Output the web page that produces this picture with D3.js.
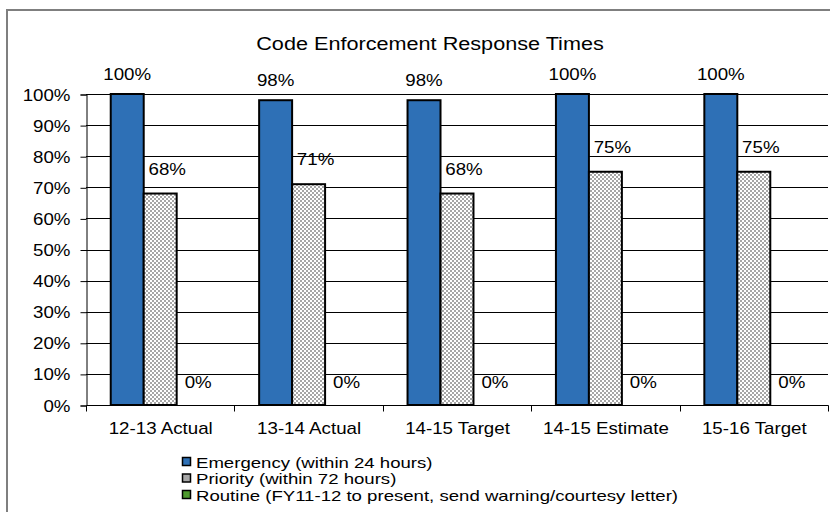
<!DOCTYPE html>
<html>
<head>
<meta charset="utf-8">
<script src="https://cdn.jsdelivr.net/npm/d3@7/dist/d3.min.js"></script>
<style>
  html, body { margin: 0; padding: 0; background: #fff; }
  svg { display: block; font-family: "Liberation Sans", Arial, sans-serif; }
</style>
</head>
<body>
<svg id="chart" width="830" height="512"></svg>
<script>
// Response-time data by fiscal year
const categories = ["12-13 Actual", "13-14 Actual", "14-15 Target", "14-15 Estimate", "15-16 Target"];
const emergency = [100, 98, 98, 100, 100];
const priority = [68, 71, 68, 75, 75];
const routine = [0, 0, 0, 0, 0];
const seriesNames = [
  "Emergency (within 24 hours)",
  "Priority (within 72 hours)",
  "Routine (FY11-12 to present, send warning/courtesy letter)"
];
const yTicks = [0, 10, 20, 30, 40, 50, 60, 70, 80, 90, 100];
const chartTitle = "Code Enforcement Response Times";

const series = [
  { key: "emergency", name: seriesNames[0], values: emergency, fill: "#2e70b6", dx: 0, dy: -14 },
  { key: "priority", name: seriesNames[1], values: priority, fill: "url(#checker)", dx: 7, dy: -19 },
  { key: "routine", name: seriesNames[2], values: routine, fill: "#4e9a2e", dx: 5, dy: -17 }
];

const svg = d3.select("#chart");
const sx = 1.17; // horizontal text stretch

// checkerboard fill for the priority series
const defs = svg.append("defs");
const pat = defs.append("pattern").attr("id", "checker")
  .attr("patternUnits", "userSpaceOnUse").attr("width", 4).attr("height", 4);
pat.append("rect").attr("width", 4).attr("height", 4).attr("fill", "#ffffff");
pat.append("rect").attr("width", 2).attr("height", 2).attr("fill", "#a6a6a6");
pat.append("rect").attr("x", 2).attr("y", 2).attr("width", 2).attr("height", 2).attr("fill", "#a6a6a6");

// chart frame
svg.append("rect").attr("x", 7).attr("y", 10).attr("width", 840).attr("height", 520)
  .attr("fill", "none").attr("stroke", "#7f7f7f").attr("stroke-width", 2);

const plotLeft = 86, plotRight = 828, plotTop = 94, plotBottom = 405;

const x = d3.scaleBand().domain(categories).range([plotLeft, plotRight]).paddingInner(0).paddingOuter(0);
const y = d3.scaleLinear().domain([0, 100]).range([plotBottom, plotTop]);

// bar sub-band: 3 bars with 150% gap width
const inner = d3.scaleBand().domain(series.map(s => s.key))
  .range([0, x.bandwidth()]).paddingInner(0).paddingOuter(0.75);

function stretchedText(g, tx, ty, txt, size, anchor, scaleX) {
  return g.append("text")
    .attr("transform", `translate(${tx},${ty}) scale(${scaleX || sx},1)`)
    .attr("text-anchor", anchor || "middle")
    .attr("font-size", size)
    .attr("fill", "#000")
    .text(txt);
}

// gridlines
svg.append("g").selectAll("line").data(yTicks.filter(t => t > 0)).join("line")
  .attr("x1", plotLeft).attr("x2", plotRight)
  .attr("y1", d => Math.round(y(d)) + 0.5).attr("y2", d => Math.round(y(d)) + 0.5)
  .attr("stroke", "#000").attr("stroke-width", 1);

// y axis
const yAxis = svg.append("g").attr("transform", `translate(${plotLeft + 0.5},0.5)`)
  .call(d3.axisLeft(y).tickValues(yTicks).tickSize(6).tickFormat(d => d + "%"));
yAxis.select(".domain").attr("stroke", "#000");
yAxis.selectAll(".tick line").attr("stroke", "#000");
yAxis.selectAll(".tick text").remove();
yAxis.selectAll(".tick").each(function(d) {
  stretchedText(d3.select(this), -16, 5.5, d + "%", 16, "end");
});

// x axis
const xAxis = svg.append("g").attr("transform", `translate(0.5,${Math.round(plotBottom) + 0.5})`);
xAxis.append("line").attr("x1", plotLeft).attr("x2", plotRight).attr("stroke", "#000");
const boundaries = categories.map(c => x(c)).concat([plotRight]);
xAxis.selectAll("line.tk").data(boundaries).join("line").attr("class", "tk")
  .attr("x1", d => Math.round(d)).attr("x2", d => Math.round(d)).attr("y1", 0).attr("y2", 6)
  .attr("stroke", "#000");
categories.forEach(c => {
  stretchedText(xAxis, x(c) + x.bandwidth() / 2, 28, c, 16, "middle");
});

// bars
const barG = svg.append("g");
series.forEach(s => {
  const g = barG.append("g");
  g.selectAll("rect").data(categories.map((c, i) => ({ c, v: s.values[i] }))).join("rect")
    .attr("x", d => x(d.c) + inner(s.key))
    .attr("y", d => y(d.v))
    .attr("width", inner.bandwidth())
    .attr("height", d => y(0) - y(d.v))
    .attr("fill", s.fill)
    .attr("stroke", "#000")
    .attr("stroke-width", d => d.v > 0 ? 2 : 0);
});

// value labels
const labG = svg.append("g");
series.forEach(s => {
  categories.forEach((c, i) => {
    const v = s.values[i];
    stretchedText(labG, x(c) + inner(s.key) + inner.bandwidth() / 2 + s.dx, y(v) + s.dy, v + "%", 16, "middle");
  });
});

// title
stretchedText(svg, 430, 50, chartTitle, 18.5, "middle");

// legend
const legend = svg.append("g").attr("transform", "translate(182,462)");
series.forEach((s, i) => {
  const row = legend.append("g").attr("transform", `translate(0,${i * 16.5})`);
  row.append("rect").attr("x", 0.5).attr("y", -4.5).attr("width", 8).attr("height", 8)
    .attr("fill", s.key === "priority" ? "#a6a6a6" : s.fill)
    .attr("stroke", "#000").attr("stroke-width", 1.5);
  stretchedText(row, 14, 5.5, s.name, 14.2, "start", 1.31);
});
</script>
</body>
</html>
